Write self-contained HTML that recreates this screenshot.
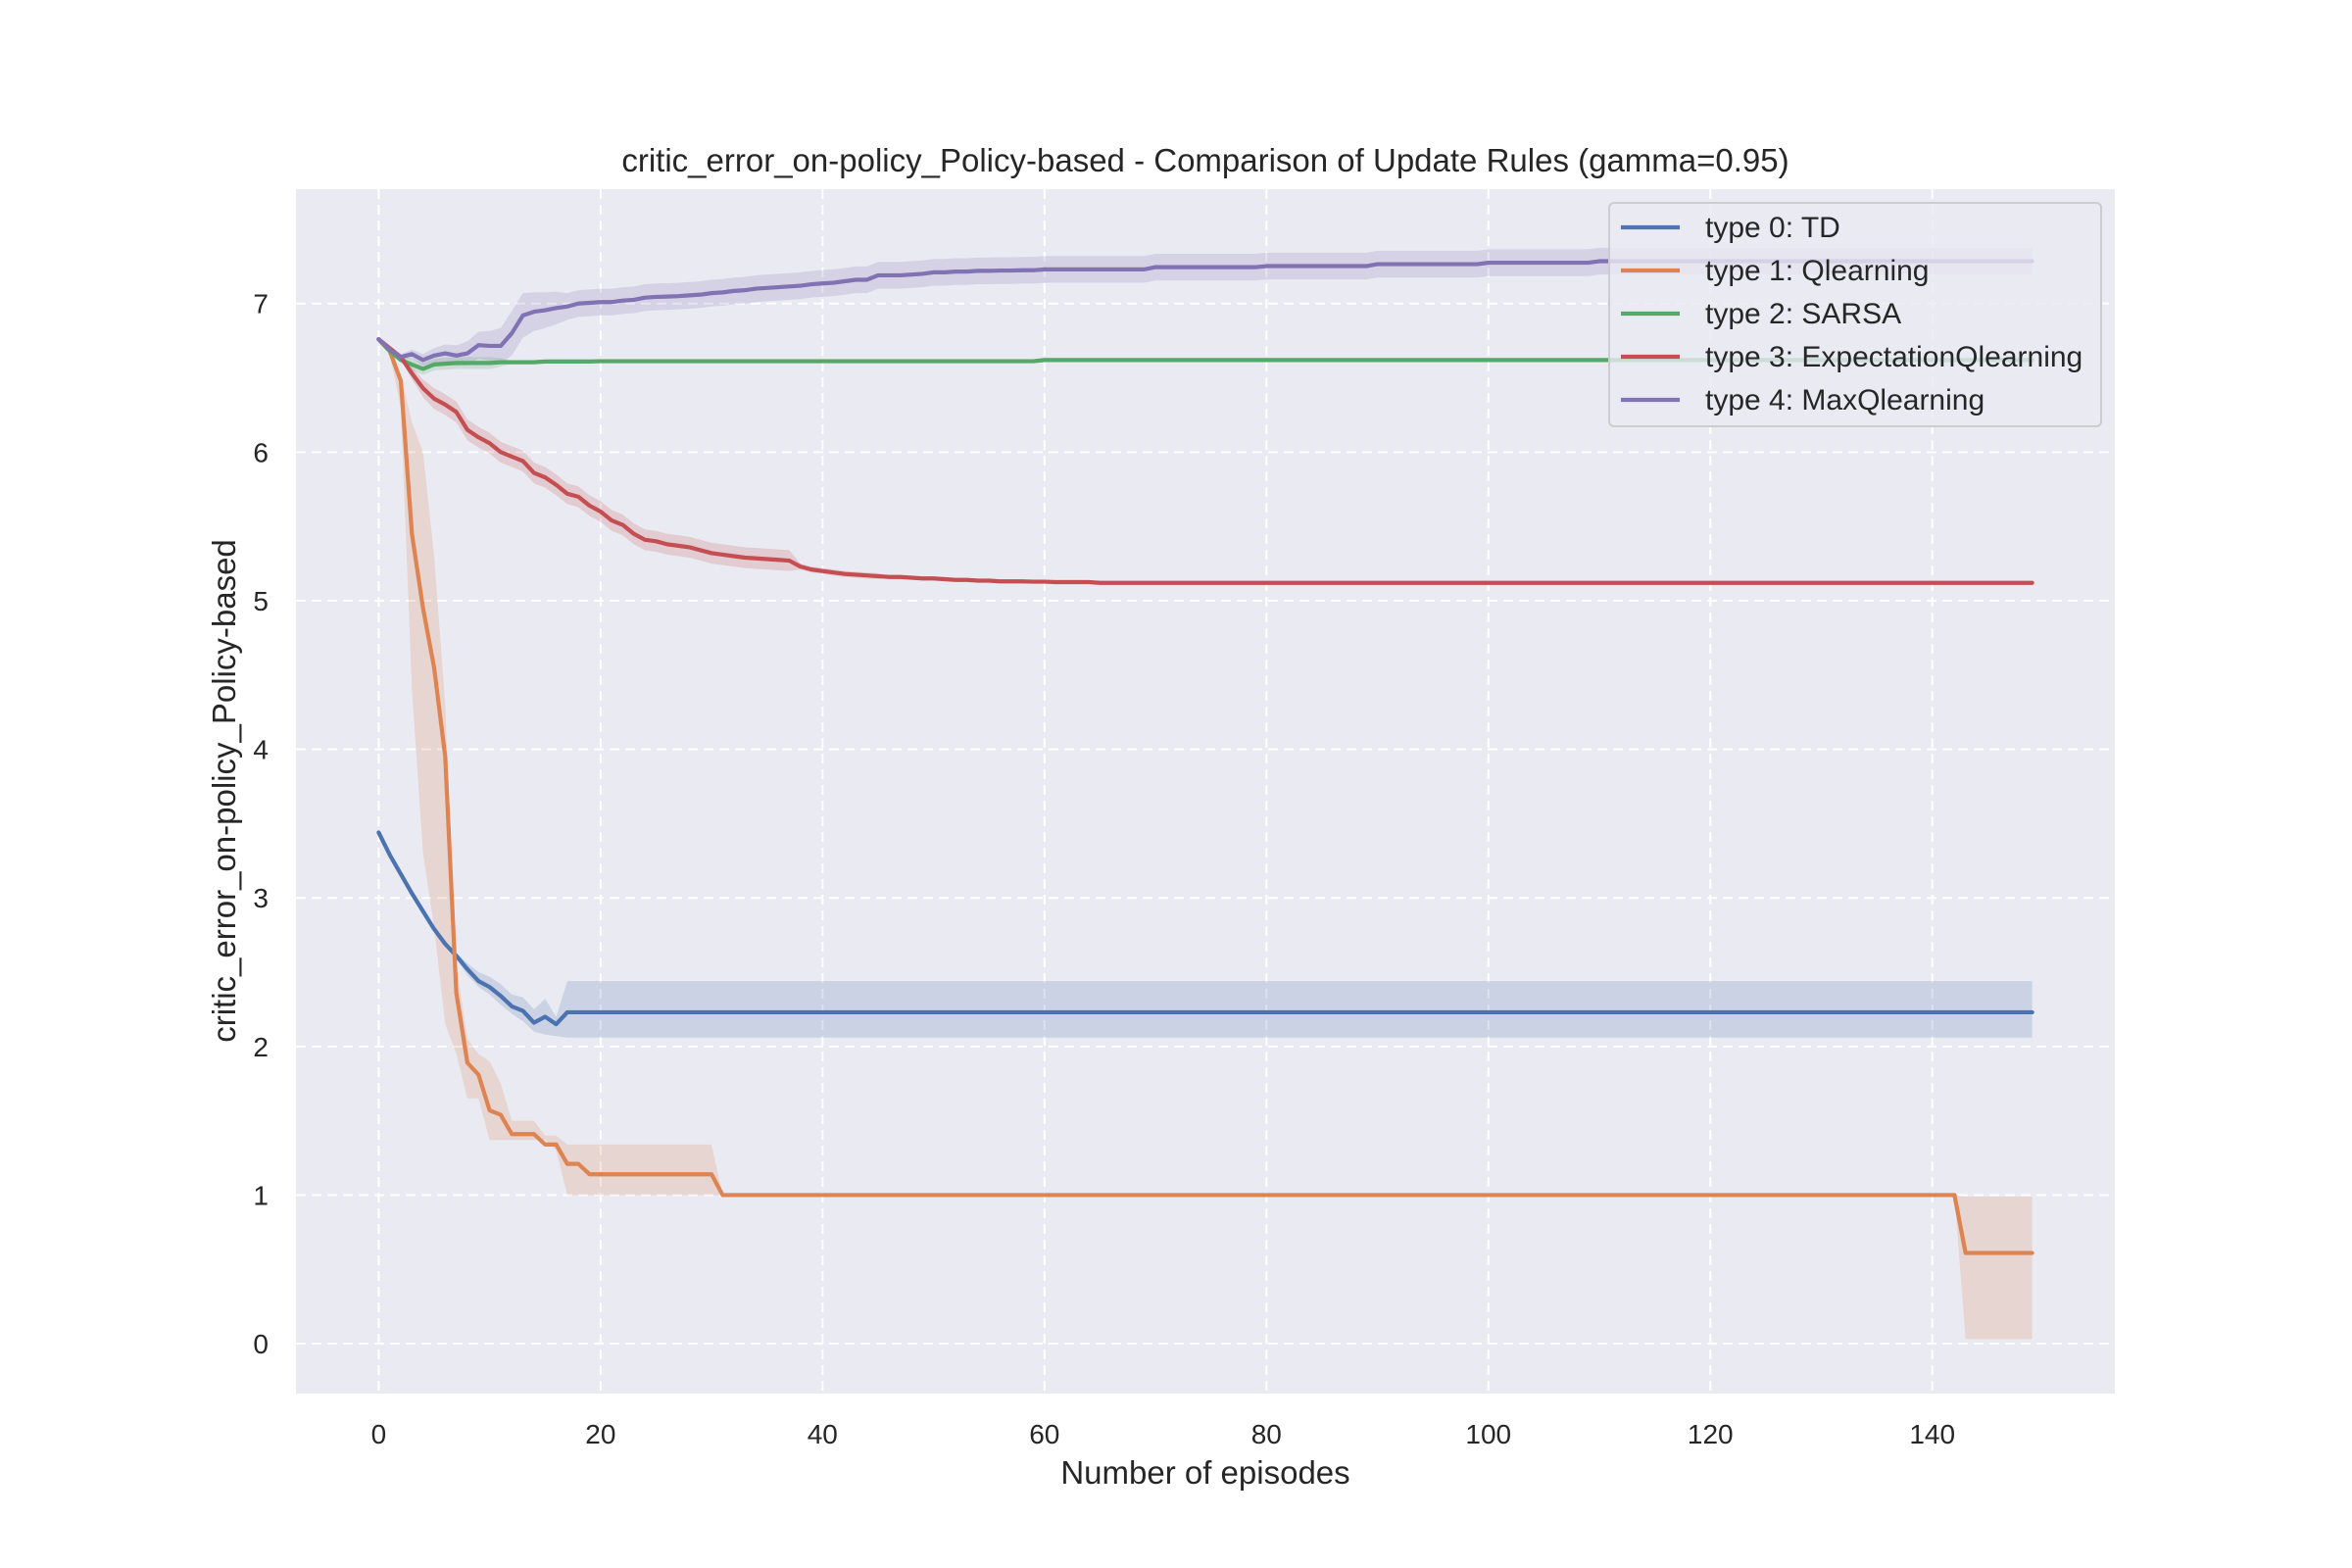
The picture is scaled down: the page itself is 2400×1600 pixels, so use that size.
<!DOCTYPE html>
<html><head><meta charset="utf-8"><style>
html,body{margin:0;padding:0;background:#fff;}
svg{display:block;font-family:"Liberation Sans",Arial,sans-serif;}
</style></head><body>
<svg id="chart" width="2400" height="1600" viewBox="0 0 2400 1600" xmlns="http://www.w3.org/2000/svg">
<rect x="302" y="193" width="1856" height="1229" fill="#eaeaf2"/>
<g id="grid"></g>
<g id="bands"></g>
<g id="lines"></g>
<g id="ticks" font-size="28" fill="#262626"></g>
<text x="1230" y="175" text-anchor="middle" font-size="33" fill="#262626">critic_error_on-policy_Policy-based - Comparison of Update Rules (gamma=0.95)</text>
<text x="1230" y="1514" text-anchor="middle" font-size="33" fill="#262626">Number of episodes</text>
<text transform="translate(240,807) rotate(-90)" text-anchor="middle" font-size="33" fill="#262626">critic_error_on-policy_Policy-based</text>
<g id="legend"></g>
</svg>
<script>
const xTicks=[0,20,40,60,80,100,120,140];
const yTicks=[0,1,2,3,4,5,6,7];
const seriesNames=["type 0: TD","type 1: Qlearning","type 2: SARSA","type 3: ExpectationQlearning","type 4: MaxQlearning"];
const F=(n,v)=>Array(n).fill(v);
const td=[3.44,3.29,3.16,3.03,2.91,2.79,2.69,2.61,2.52,2.44,2.40,2.34,2.27,2.24,2.16,2.20,2.15,2.23].concat(F(132,2.23));
const tdLo=[3.43,3.28,3.15,3.02,2.90,2.78,2.68,2.59,2.48,2.40,2.35,2.28,2.22,2.17,2.10,2.08,2.07].concat(F(133,2.06));
const tdHi=[3.45,3.30,3.17,3.04,2.92,2.80,2.70,2.63,2.56,2.50,2.47,2.42,2.35,2.33,2.25,2.32,2.20].concat(F(133,2.44));
const ql=[6.76,6.68,6.48,5.45,4.95,4.55,3.95,2.36,1.89,1.81,1.57,1.54,1.41,1.41,1.41,1.34,1.34,1.21,1.21].concat(F(12,1.14),F(112,1.0),F(7,0.61));
const qlLo=[6.76,6.66,6.30,4.40,3.30,2.80,2.15,1.95,1.65,1.65,1.37,1.37,1.37,1.37,1.37,1.37,1.30].concat(F(14,1.0),F(112,1.0),F(7,0.03));
const qlHi=[6.76,6.70,6.52,6.20,6.00,5.30,4.30,2.55,2.05,1.95,1.90,1.75,1.50,1.50,1.50,1.40,1.40].concat(F(14,1.34),F(112,1.0),F(7,0.99));
const sarsa=[6.76,6.68,6.62,6.59,6.56,6.59,6.595,6.60,6.60,6.60,6.60,6.605,6.605,6.605,6.605,6.61,6.61,6.61,6.61,6.61].concat(F(40,6.612),F(90,6.62));
const sarsaSd=[0,0.01,0.02,0.04,0.04,0.04,0.04,0.04,0.04,0.04,0.04,0.03].concat(F(138,0.008));
const eql=[6.76,6.70,6.64,6.53,6.43,6.36,6.32,6.27,6.15,6.10,6.06,6.00,5.97,5.94,5.86,5.83,5.78,5.72,5.70,5.64,5.60,5.54,5.51,5.45,5.41,5.40,5.38,5.37,5.36,5.34,5.32,5.31,5.30,5.29,5.285,5.28,5.275,5.27,5.23,5.21,5.20,5.19,5.18,5.175,5.17,5.165,5.16,5.16,5.155,5.15,5.15,5.145,5.14,5.14,5.135,5.135,5.13,5.13,5.13,5.128,5.128,5.125,5.125,5.125,5.125].concat(F(85,5.12));
const eqlSd=[0,0.01,0.02,0.04,0.06].concat(F(33,0.07),F(8,0.02),F(104,0.008));
const mql=[6.76,6.69,6.64,6.66,6.62,6.65,6.665,6.65,6.665,6.72,6.715,6.715,6.80,6.92,6.945,6.955,6.97,6.98,7.0,7.005,7.01,7.01,7.02,7.025,7.04,7.045,7.047,7.05,7.055,7.06,7.07,7.075,7.085,
 7.09,7.10,7.105,7.11,7.115,7.12,7.13,7.135,7.14,7.15,7.16,7.16,
 7.19,7.19,7.19,7.195,7.2,7.21,7.21,7.215,7.215,7.22,7.22,7.222,7.222,7.224,7.224].concat(F(10,7.23),F(10,7.245),F(10,7.252),F(10,7.265),F(10,7.275),F(40,7.285));
const mqlSd=[0,0.01,0.02,0.03,0.04,0.05,0.06,0.07,0.08,0.09,0.1,0.12,0.15,0.15,0.13,0.12,0.11].concat(F(133,0.09));

const X0=302,X1=2158,Y0=193,Y1=1422,XMIN=-7.45,XMAX=156.45,YMIN=-0.336,YMAX=7.77;
const sx=v=>X0+(v-XMIN)/(XMAX-XMIN)*(X1-X0);
const sy=v=>Y1-(v-YMIN)/(YMAX-YMIN)*(Y1-Y0);
const NS="http://www.w3.org/2000/svg";
function mk(tag,attrs,parent){const e=document.createElementNS(NS,tag);for(const k in attrs)e.setAttribute(k,attrs[k]);parent.appendChild(e);return e;}
const grid=document.getElementById('grid'),ticks=document.getElementById('ticks');
xTicks.forEach(t=>{
 const l=mk('line',{x1:sx(t),x2:sx(t),y1:Y0,y2:Y1,stroke:'#fff','stroke-width':2,'stroke-dasharray':'10,6'},grid);
 
 
 const tx=mk('text',{x:sx(t),y:1473,'text-anchor':'middle'},ticks);tx.textContent=t;
 
 
});
yTicks.forEach(t=>{
 const l=mk('line',{x1:X0,x2:X1,y1:sy(t),y2:sy(t),stroke:'#fff','stroke-width':2,'stroke-dasharray':'10,6'},grid);
 
 
 const tx=mk('text',{x:274,y:sy(t)+10,'text-anchor':'end'},ticks);tx.textContent=t;
 
 
});
const colors=['#4c72b0','#dd8452','#55a868','#c44e52','#8172b3'];
const series=[
 {v:td,lo:tdLo,hi:tdHi},
 {v:ql,lo:qlLo,hi:qlHi},
 {v:sarsa,lo:sarsa.map((d,i)=>d-sarsaSd[i]),hi:sarsa.map((d,i)=>d+sarsaSd[i])},
 {v:eql,lo:eql.map((d,i)=>d-eqlSd[i]),hi:eql.map((d,i)=>d+eqlSd[i])},
 {v:mql,lo:mql.map((d,i)=>d-mqlSd[i]),hi:mql.map((d,i)=>d+mqlSd[i])}
];
const bands=document.getElementById('bands'),lines=document.getElementById('lines');
series.forEach((s,k)=>{
 let pts=s.hi.map((d,i)=>sx(i)+','+sy(d));
 pts=pts.concat(s.lo.map((d,i)=>sx(i)+','+sy(d)).reverse());
 const b=mk('polygon',{points:pts.join(' '),fill:colors[k],'fill-opacity':0.2},bands);
 
 
});
series.forEach((s,k)=>{
 const p=mk('polyline',{points:s.v.map((d,i)=>sx(i)+','+sy(d)).join(' '),fill:'none',stroke:colors[k],'stroke-width':4.2,'stroke-linejoin':'round','stroke-linecap':'round'},lines);
 
 
});
const lg=document.getElementById('legend');
const box=mk('rect',{x:1642,y:207,width:502,height:228,rx:5,fill:'#eaeaf2','fill-opacity':0.8,stroke:'#cccccc','stroke-width':2},lg);


seriesNames.forEach((n,k)=>{
 const y=232+44*k;
 const l=mk('line',{x1:1654,x2:1714,y1:y,y2:y,stroke:colors[k],'stroke-width':4.2},lg);
 
 
 const t=mk('text',{x:1740,y:y+10,'font-size':30,fill:'#262626'},lg);t.textContent=n;
 
 
});
</script>
</body></html>
